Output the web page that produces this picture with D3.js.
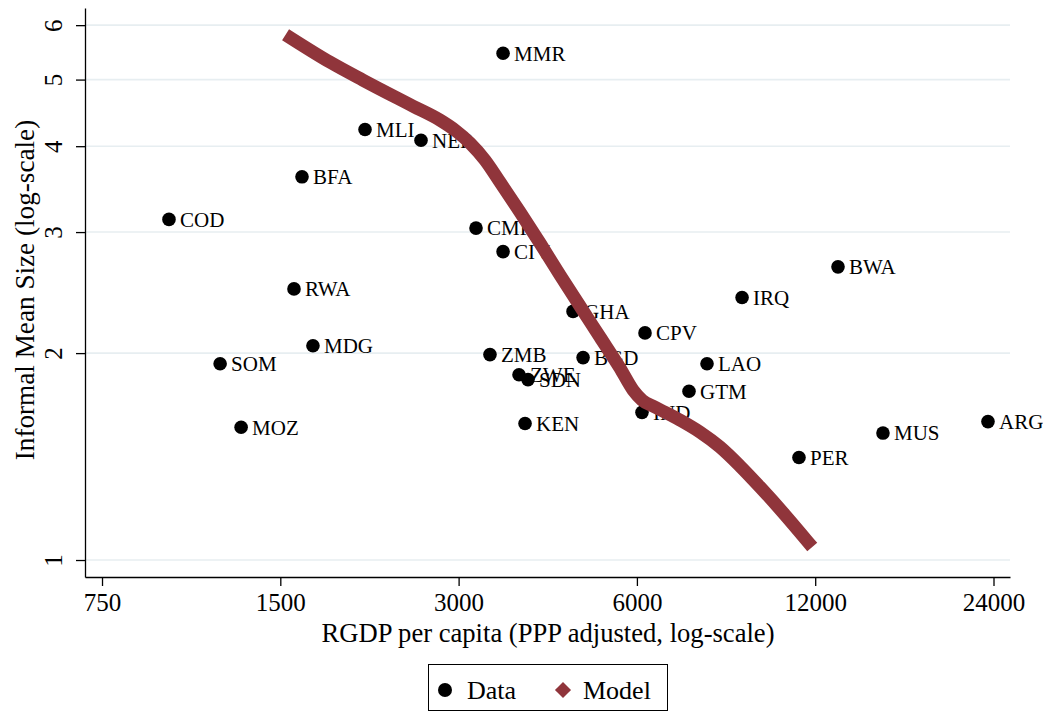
<!DOCTYPE html>
<html>
<head>
<meta charset="utf-8">
<script src="https://cdn.jsdelivr.net/npm/d3@7"></script>
<style>
  body { margin: 0; background: #fff; }
  text { font-family: "Liberation Serif", "Times New Roman", serif; fill: #000; }
</style>
</head>
<body>
<script>
// Country data
const countries = ["COD","MLI","NER","BFA","MMR","CMR","CIV","RWA","GHA","CPV","BWA","IRQ","MDG",
                   "SOM","ZMB","BGD","LAO","ZWE","SDN","GTM","IND","KEN","MOZ","ARG","MUS","PER"];
const gdp = [973, 2085, 2592, 1632, 3566, 3210, 3566, 1582, 4681, 6192, 13112, 9030, 1703,
             1187, 3389, 4867, 7880, 3794, 3929, 7347, 6120, 3884, 1288, 23490, 15617, 11266];
const size = [3.13, 4.23, 4.08, 3.61, 5.46, 3.04, 2.81, 2.48, 2.30, 2.14, 2.67, 2.41, 2.05,
              1.93, 1.99, 1.97, 1.93, 1.86, 1.83, 1.76, 1.64, 1.58, 1.56, 1.59, 1.53, 1.41];

// Model curve
const modelGdp = [1564, 1820, 2069, 2513, 2791, 2958, 3136, 3324, 3524, 3809, 4117, 4450, 4809,
                  5199, 5619, 5911, 6121, 6438, 7095, 7668, 8288, 8958, 9682, 10672, 11672];
const modelSize = [5.744, 5.300, 4.990, 4.574, 4.365, 4.221, 4.041, 3.818, 3.546, 3.207, 2.891,
                   2.597, 2.341, 2.110, 1.902, 1.767, 1.709, 1.669, 1.598, 1.535, 1.460, 1.370,
                   1.277, 1.163, 1.062];

const xTicks = [750, 1500, 3000, 6000, 12000, 24000];
const yTicks = [1, 2, 3, 4, 5, 6];

const W = 1043, H = 713;
const maroon = "#90353b";

const svg = d3.select("body").append("svg")
    .attr("width", W)
    .attr("height", H);

const x = d3.scaleLog().domain([702, 25590]).range([85, 1010]);
const y = d3.scaleLog().domain([0.9447, 6.355]).range([577, 8]);

// grid lines
svg.append("g").selectAll("line")
    .data(yTicks)
    .enter().append("line")
    .attr("x1", 86).attr("x2", 1010)
    .attr("y1", d => y(d)).attr("y2", d => y(d))
    .attr("stroke", "#e7eef1")
    .attr("stroke-width", 1.6);

// x axis
const xAxis = svg.append("g")
    .attr("transform", "translate(0,577)")
    .call(d3.axisBottom(x).tickValues(xTicks).tickFormat(d3.format("d")).tickSize(9).tickSizeOuter(0).tickPadding(7));
xAxis.select(".domain").attr("stroke-width", 1.3);
xAxis.selectAll(".tick line").attr("stroke-width", 1.3);
xAxis.selectAll("text")
    .attr("font-size", 25);

// y axis
const yAxis = svg.append("g")
    .attr("transform", "translate(85,0)")
    .call(d3.axisLeft(y).tickValues(yTicks).tickFormat(d3.format("d")).tickSize(9).tickSizeOuter(0));
yAxis.select(".domain").attr("stroke-width", 1.3);
yAxis.selectAll(".tick line").attr("stroke-width", 1.3);
yAxis.selectAll("text")
    .attr("font-size", 25)
    .attr("x", null).attr("dy", null)
    .attr("text-anchor", "middle")
    .attr("transform", "translate(-23,0) rotate(-90)");

// axis titles
svg.append("text")
    .attr("x", 548).attr("y", 642)
    .attr("text-anchor", "middle")
    .attr("font-size", 26.6)
    .text("RGDP per capita (PPP adjusted, log-scale)");

svg.append("text")
    .attr("transform", "translate(34,290) rotate(-90)")
    .attr("text-anchor", "middle")
    .attr("font-size", 27.2)
    .text("Informal Mean Size (log-scale)");

// data points
const pts = countries.map((c, i) => ({ name: c, gdp: gdp[i], size: size[i] }));

const node = svg.append("g").selectAll(".node")
    .data(pts)
    .enter().append("g")
    .attr("class", "node")
    .attr("transform", d => "translate(" + x(d.gdp) + "," + y(d.size) + ")");

node.append("circle")
    .attr("r", 6.8)
    .attr("fill", "#000");

node.append("text")
    .text(d => d.name)
    .attr("x", 11)
    .attr("dy", "0.35em")
    .attr("font-size", 21);

// model curve (drawn on top, like the thick diamond markers)
const model = modelGdp.map((g, i) => ({ gdp: g, size: modelSize[i] }));
const line = d3.line()
    .x(d => x(d.gdp))
    .y(d => y(d.size))
    .curve(d3.curveMonotoneX);

svg.append("path")
    .datum(model)
    .attr("d", line)
    .attr("fill", "none")
    .attr("stroke", maroon)
    .attr("stroke-width", 13)
    .attr("stroke-linejoin", "round")
    .attr("stroke-linecap", "square");

// legend
const legend = svg.append("g");
legend.append("rect")
    .attr("x", 428.5).attr("y", 664.5)
    .attr("width", 239).attr("height", 46)
    .attr("fill", "#fff")
    .attr("stroke", "#000")
    .attr("stroke-width", 1);
legend.append("circle")
    .attr("cx", 445).attr("cy", 690).attr("r", 7)
    .attr("fill", "#000");
legend.append("text")
    .attr("x", 467).attr("y", 690).attr("dy", "0.35em")
    .attr("font-size", 26)
    .text("Data");
legend.append("path")
    .attr("d", d3.symbol().type(d3.symbolDiamond2).size(165))
    .attr("transform", "translate(563,690)")
    .attr("fill", maroon);
legend.append("text")
    .attr("x", 583).attr("y", 690).attr("dy", "0.35em")
    .attr("font-size", 26)
    .text("Model");
</script>
</body>
</html>
